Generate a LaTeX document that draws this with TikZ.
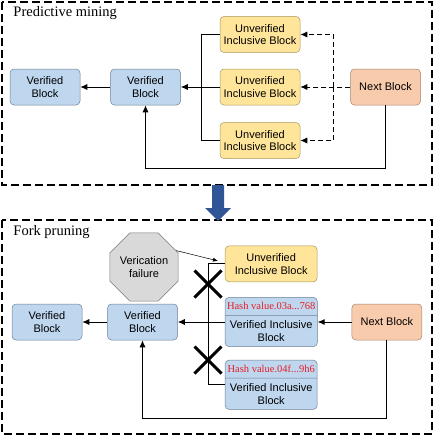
\documentclass[tikz,border=0pt]{standalone}
\usepackage{fontspec}
\setmainfont{Liberation Serif}
\newfontfamily\blockfont{Liberation Sans}
\usepackage{tikz}
\usetikzlibrary{shapes,arrows,arrows.meta}
\usetikzlibrary{positioning}
\usetikzlibrary{calc}
\definecolor{vfill}{RGB}{190,214,238}
\definecolor{vline}{RGB}{110,128,150}
\definecolor{ufill}{RGB}{255,229,153}
\definecolor{uline}{RGB}{168,150,96}
\definecolor{nfill}{RGB}{248,203,173}
\definecolor{nline}{RGB}{168,130,108}
\definecolor{ffill}{RGB}{217,217,217}
\definecolor{fline}{RGB}{120,120,120}
\definecolor{hashred}{RGB}{232,30,40}
\definecolor{arrowblue}{RGB}{47,85,151}
\begin{document}
\begin{tikzpicture}[x=1pt,y=-1pt,node distance=2em,>={Latex[length=7pt,width=6pt]},line width=0.9pt,
  block/.style={draw,rounded corners=4pt,line width=0.5pt,minimum height=36pt,align=center,inner sep=2pt,font=\blockfont\fontsize{11}{12.7}\selectfont},
  vblock/.style={block,draw=vline,fill=vfill,minimum width=70pt},
  ublock/.style={block,draw=uline,fill=ufill,minimum width=80pt},
  nblock/.style={block,draw=nline,fill=nfill,minimum width=70pt},
  hblock/.style={block,draw=vline,fill=vfill,minimum width=92pt,minimum height=0pt,rectangle split,rectangle split parts=2,inner ysep=5pt},
  failnode/.style={draw=fline,fill=ffill,line width=0.5pt,regular polygon,regular polygon sides=8,minimum size=58pt,inner sep=0pt,align=center,font=\blockfont\fontsize{11}{12.7}\selectfont},
  cut/.style={cross out,draw,line width=3pt,minimum size=24pt,inner sep=0pt},
  frame/.style={draw,line width=1.3pt,dash pattern=on 8pt off 4pt},
  title/.style={anchor=base west,inner sep=0pt,font=\fontsize{14.5}{16}\selectfont},
  dashlink/.style={dash pattern=on 5pt off 3pt}]
\useasboundingbox (0,0) rectangle (436,436);
\path[frame] (2,2) rectangle (432,185);
\path[frame] (2,220) rectangle (432,434);
\fill[arrowblue] (212,185) -- (224,185) -- (224,208) -- (231,208) -- (218,221) -- (205,208) -- (212,208) -- cycle;
% predictive mining
\path node[title] (ptitle) at (13,17) {Predictive mining};
\path node[vblock] (pv1) at (45,87) {Verified\\Block};
\path node[vblock, right=30pt of pv1] (pv2) {Verified\\Block};
\path node[ublock, right=39pt of pv2] (pu2) {Unverified\\Inclusive Block};
\path node[ublock, above=16pt of pu2] (pu1) {Unverified\\Inclusive Block};
\path node[ublock, below=17pt of pu2] (pu3) {Unverified\\Inclusive Block};
\path node[nblock, right=50pt of pu2] (pn) {Next Block};
\coordinate (pjoin) at ($(pu2.west)+(-18,0)$);
\coordinate (pdash) at ($(pn.west)+(-17,0)$);
\path[->] (pv2) edge (pv1);
\path[->] (pu2) edge (pv2);
\path[draw] (pu1.west) -| (pjoin) |- (pu3.west);
\path[->,dashlink] (pn) edge (pu2);
\path[->,draw,dashlink] (pdash) |- (pu1.east);
\path[->,draw,dashlink] (pdash) |- (pu3.east);
\path[->,draw] (pn.south) -- ++(0,63) -| (pv2.south);
% fork pruning
\path node[title] (ftitle) at (13,235) {Fork pruning};
\path node[vblock] (fv1) at (47,322) {Verified\\Block};
\path node[vblock, right=25pt of fv1] (fv2) {Verified\\Block};
\path node[hblock, right=47pt of fv2] (fh1) {\textcolor{hashred}{\rmfamily\fontsize{10.5}{12}\selectfont Hash value.03a...768}\nodepart{two}Verified Inclusive\\Block};
\path node[ublock, minimum width=92pt, above=15pt of fh1] (fu) {Unverified\\Inclusive Block};
\path node[hblock, below=13pt of fh1] (fh2) {\textcolor{hashred}{\rmfamily\fontsize{10.5}{12}\selectfont Hash value.04f...9h6}\nodepart{two}Verified Inclusive\\Block};
\path node[nblock, right=34pt of fh1] (fn) {Next Block};
\path node[failnode] (fail) at (144,267) {Verication\\failure};
\coordinate (fjoin) at ($(fu.west)+(-16,0)$);
\coordinate (failtip) at ($(fu.west)+(-7,-3)$);
\path[->] (fv2) edge (fv1);
\path[->] (fh1.west) edge (fv2.east);
\path[->] (fn) edge (fh1);
\path[draw] (fu.west) -- (fjoin) |- (fh2.west);
\path[-{Latex[length=5pt,width=4pt]},draw,line width=0.5pt] (fail.27) -- (failtip);
\path[->,draw] (fn.south) -- ++(0,78) -| (fv2.south);
\path node[cut] (cut1) at (208,284) {};
\path node[cut] (cut2) at (208,360) {};
\end{tikzpicture}
\end{document}
